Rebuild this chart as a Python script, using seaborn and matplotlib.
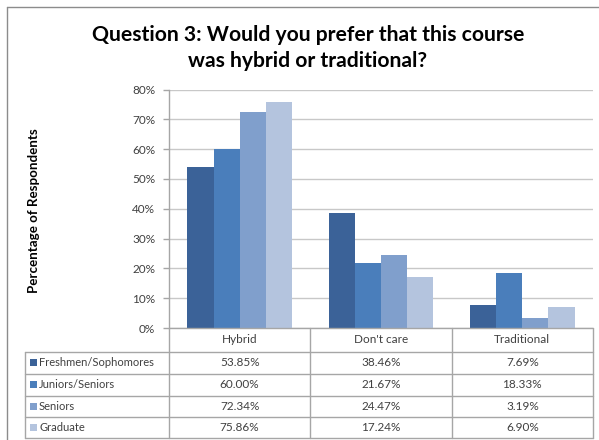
import matplotlib
matplotlib.use("Agg")
import matplotlib.pyplot as plt
from matplotlib.lines import Line2D
from matplotlib.patches import Rectangle
from matplotlib.ticker import PercentFormatter
import pandas as pd
import seaborn as sns

# Survey responses: share of respondents per answer, by student group
answers = ["Hybrid", "Don't care", "Traditional"]
groups = ["Freshmen/Sophomores", "Juniors/Seniors", "Seniors", "Graduate"]
freshmen_sophomores = [53.85, 38.46, 7.69]
juniors_seniors = [60.00, 21.67, 18.33]
seniors = [72.34, 24.47, 3.19]
graduate = [75.86, 17.24, 6.90]
y_ticks = [0, 10, 20, 30, 40, 50, 60, 70, 80]

series = [freshmen_sophomores, juniors_seniors, seniors, graduate]
colors = ["#3B6298", "#4A7EBB", "#809FCC", "#B4C4DE"]

rows = []
for g, vals in zip(groups, series):
    for a, v in zip(answers, vals):
        rows.append({"answer": a, "group": g, "pct": v / 100.0})
df = pd.DataFrame(rows)

sns.set_theme(style="white")
plt.rcParams["font.family"] = ["Lato", "DejaVu Sans"]

W, H = 599, 440
fig = plt.figure(figsize=(W / 100, H / 100), dpi=100)
fig.patch.set_facecolor("white")

def fx(px):
    return px / W

def fy(py):
    return 1 - py / H

ax_l, ax_r, ax_t, ax_b = 169, 593, 89.5, 328
ax = fig.add_axes([fx(ax_l), fy(ax_b), fx(ax_r - ax_l), (ax_b - ax_t) / H])

sns.barplot(data=df, x="answer", y="pct", hue="group", order=answers,
            hue_order=groups, palette=colors, width=0.74, gap=0,
            saturation=1, legend=False, ax=ax, errorbar=None,
            edgecolor="none", linewidth=0)

ax.set_ylim(0, 0.8)
ax.set_xlim(-0.5, 2.5)
ax.set_yticks([t / 100 for t in y_ticks])
ax.yaxis.set_major_formatter(PercentFormatter(1.0, decimals=0))
ax.yaxis.grid(True, color="#C8C8C8", linewidth=1.0)
ax.set_axisbelow(True)
ax.tick_params(axis="y", left=True, length=4, width=1, color="#A6A6A6",
               labelsize=8.5, labelcolor="#404040", pad=6)
ax.tick_params(axis="x", bottom=False, labelbottom=False)
ax.set_xlabel("")
ax.set_ylabel("")
for s in ["top", "right", "bottom"]:
    ax.spines[s].set_visible(False)
ax.spines["left"].set_color("#A6A6A6")
ax.spines["left"].set_linewidth(1.0)

# Title and axis label
fig.text(fx(308), fy(48), "Question 3: Would you prefer that this course\nwas hybrid or traditional?",
         ha="center", va="center", fontsize=15.2, fontweight="bold",
         color="#000000", linespacing=1.38)
fig.text(fx(34), fy(211), "Percentage of Respondents", rotation=90,
         ha="center", va="center", fontsize=9.6, fontweight="bold", color="#000000")

# Outer frame (top and left edges)
line_kw = dict(transform=fig.transFigure, color="#8C8C8C", linewidth=1.0)
fig.add_artist(Line2D([fx(7), fx(599)], [fy(7), fy(7)], **line_kw))
fig.add_artist(Line2D([fx(7), fx(7)], [fy(7), fy(440)], **line_kw))

# Data table under the chart
grid_kw = dict(transform=fig.transFigure, color="#A6A6A6", linewidth=1.0)
col_edges = [169, 310.3, 451.7, 593]
row_edges = [328, 351.5, 373.5, 395.5, 417, 438]
tbl_left = 25

fig.add_artist(Line2D([fx(ax_l), fx(ax_l)], [fy(ax_b), fy(row_edges[-1])], **grid_kw))
for x in col_edges[1:]:
    fig.add_artist(Line2D([fx(x), fx(x)], [fy(row_edges[0]), fy(row_edges[-1])], **grid_kw))
fig.add_artist(Line2D([fx(tbl_left), fx(tbl_left)], [fy(row_edges[1]), fy(row_edges[-1])], **grid_kw))
fig.add_artist(Line2D([fx(ax_l), fx(col_edges[-1])], [fy(row_edges[0]), fy(row_edges[0])], **grid_kw))
for y in row_edges[1:]:
    fig.add_artist(Line2D([fx(tbl_left), fx(col_edges[-1])], [fy(y), fy(y)], **grid_kw))

txt_kw = dict(fontsize=8.5, color="#404040", va="center")
for i, a in enumerate(answers):
    cx = (col_edges[i] + col_edges[i + 1]) / 2
    fig.text(fx(cx), fy((row_edges[0] + row_edges[1]) / 2), a, ha="center", **txt_kw)

for r, (g, vals, c) in enumerate(zip(groups, series, colors)):
    cy = (row_edges[r + 1] + row_edges[r + 2]) / 2
    fig.add_artist(Rectangle((fx(30), fy(cy + 3.5)), fx(7), 7 / H,
                             transform=fig.transFigure, facecolor=c, edgecolor="none"))
    fig.text(fx(39), fy(cy), g, ha="left", fontsize=8, color="#404040", va="center")
    for i, v in enumerate(vals):
        cx = (col_edges[i] + col_edges[i + 1]) / 2
        fig.text(fx(cx), fy(cy), f"{v:.2f}%", ha="center", **txt_kw)

fig.savefig("out.png", dpi=100, facecolor="white")
